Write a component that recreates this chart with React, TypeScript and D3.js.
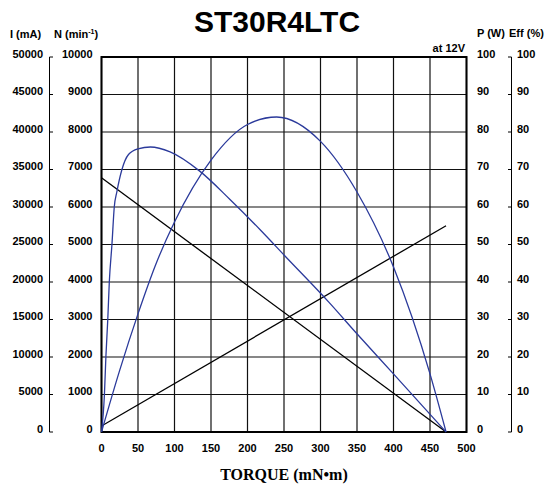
import * as d3 from "d3";

// torque axis (mN·m)
const torqueTicks = [0, 50, 100, 150, 200, 250, 300, 350, 400, 450, 500];
const currentTicks = [0, 5000, 10000, 15000, 20000, 25000, 30000, 35000, 40000, 45000, 50000];
const speedTicks = [0, 1000, 2000, 3000, 4000, 5000, 6000, 7000, 8000, 9000, 10000];
const pctTicks = [0, 10, 20, 30, 40, 50, 60, 70, 80, 90, 100];

// speed N (min-1) vs torque
const speedTorque = [0, 472];
const speed = [6780, 0];

// current I (mA) vs torque
const currentTorque = [0, 472];
const current = [800, 27500];

// output power P (W)
const powerTorque = [0, 25, 50, 75, 100, 150, 200, 240, 300, 350, 400, 450, 472];
const power = [0, 16.5, 31.5, 45, 56, 72.5, 82, 84, 77.5, 64, 44, 15.5, 0];

// efficiency (%)
const effTorque = [0, 4, 6, 8.6, 10.7, 14.3, 17.5, 21, 28, 37, 50, 67, 94, 135, 176, 217, 251, 312, 349, 399, 472];
const efficiency = [0, 10, 20, 30, 40, 50, 60, 64, 70, 74, 75.5, 76, 74.7, 69.5, 62, 54, 47, 34.5, 26.4, 15.7, 0];

const W = 553;
const H = 486;
const plot = { left: 101.5, right: 466.5, top: 57, bottom: 432 };
const BLUE = "#2b3a9b";
const FONT = "'Liberation Sans', Arial, sans-serif";

export default function App() {
  const x = d3.scaleLinear().domain([0, 500]).range([plot.left, plot.right]);
  const yN = d3.scaleLinear().domain([0, 10000]).range([plot.bottom, plot.top]);
  const yI = d3.scaleLinear().domain([0, 50000]).range([plot.bottom, plot.top]);
  const yP = d3.scaleLinear().domain([0, 100]).range([plot.bottom, plot.top]);

  const speedPath = d3
    .line<[number, number]>()
    .x((d) => x(d[0]))
    .y((d) => yN(d[1]))(speedTorque.map((t, i) => [t, speed[i]] as [number, number]));
  const currentPath = d3
    .line<[number, number]>()
    .x((d) => x(d[0]))
    .y((d) => yI(d[1]))(currentTorque.map((t, i) => [t, current[i]] as [number, number]));

  const smooth = d3
    .line<[number, number]>()
    .x((d) => x(d[0]))
    .y((d) => yP(d[1]))
    .curve(d3.curveMonotoneX);
  const powerPath = smooth(powerTorque.map((t, i) => [t, power[i]] as [number, number]));
  const effPath = smooth(effTorque.map((t, i) => [t, efficiency[i]] as [number, number]));

  const labelStyle = { fontFamily: FONT, fontWeight: 700, fontSize: 11 } as const;

  return (
    <svg
      width={W}
      height={H}
      style={{ position: "absolute", left: 0, top: 0, background: "#fff" }}
    >
      {/* title */}
      <text x={277} y={32} textAnchor="middle" fontFamily={FONT} fontWeight={700} fontSize={30}>
        ST30R4LTC
      </text>

      {/* axis headers */}
      <text x={10} y={38} {...labelStyle}>I (mA)</text>
      <text x={54} y={38} {...labelStyle}>
        N (min<tspan fontSize={7} dy={-4}>-1</tspan>
        <tspan dy={4}>)</tspan>
      </text>
      <text x={477} y={37} {...labelStyle}>P (W)</text>
      <text x={509} y={37} {...labelStyle}>Eff (%)</text>
      <text x={465} y={52} textAnchor="end" {...labelStyle}>at 12V</text>

      {/* grid */}
      {torqueTicks.map((t) => (
        <line key={`gx-${t}`} x1={x(t)} x2={x(t)} y1={plot.top} y2={plot.bottom} stroke="#111" strokeWidth={1.2} />
      ))}
      {speedTicks.map((n) => (
        <line key={`gy-${n}`} x1={plot.left} x2={plot.right} y1={yN(n)} y2={yN(n)} stroke="#111" strokeWidth={1.2} />
      ))}
      <rect
        x={plot.left}
        y={plot.top}
        width={plot.right - plot.left}
        height={plot.bottom - plot.top}
        fill="none"
        stroke="#000"
        strokeWidth={2}
      />

      {/* left tick labels */}
      <line x1={49.5} x2={49.5} y1={plot.top} y2={plot.bottom} stroke="#000" strokeWidth={1} />
      {currentTicks.map((c) => (
        <g key={`i-${c}`}>
          <line x1={49.5} x2={53} y1={yI(c)} y2={yI(c)} stroke="#000" strokeWidth={1} />
          <text x={43} y={yI(c) + 0.5} textAnchor="end" {...labelStyle}>{c}</text>
        </g>
      ))}
      {speedTicks.map((n) => (
        <text key={`n-${n}`} x={92.5} y={yN(n) + 0.5} textAnchor="end" {...labelStyle}>{n}</text>
      ))}

      {/* right tick labels */}
      <line x1={511.5} x2={511.5} y1={plot.top} y2={plot.bottom} stroke="#000" strokeWidth={1} />
      {pctTicks.map((p) => (
        <g key={`p-${p}`}>
          <line x1={508} x2={511.5} y1={yP(p)} y2={yP(p)} stroke="#000" strokeWidth={1} />
          <text x={477} y={yP(p) + 0.5} {...labelStyle}>{p}</text>
          <text x={517} y={yP(p) + 0.5} {...labelStyle}>{p}</text>
        </g>
      ))}

      {/* x tick labels */}
      {torqueTicks.map((t) => (
        <text key={`xt-${t}`} x={x(t)} y={452} textAnchor="middle" {...labelStyle}>{t}</text>
      ))}
      <text
        x={284}
        y={480}
        textAnchor="middle"
        fontFamily="'Liberation Serif', 'DejaVu Serif', serif"
        fontWeight={700}
        fontSize={16}
      >
        TORQUE (mN•m)
      </text>

      {/* curves */}
      <path d={speedPath ?? ""} fill="none" stroke="#000" strokeWidth={1.3} />
      <path d={currentPath ?? ""} fill="none" stroke="#000" strokeWidth={1.3} />
      <path d={powerPath ?? ""} fill="none" stroke={BLUE} strokeWidth={1.3} />
      <path d={effPath ?? ""} fill="none" stroke={BLUE} strokeWidth={1.3} />
    </svg>
  );
}
